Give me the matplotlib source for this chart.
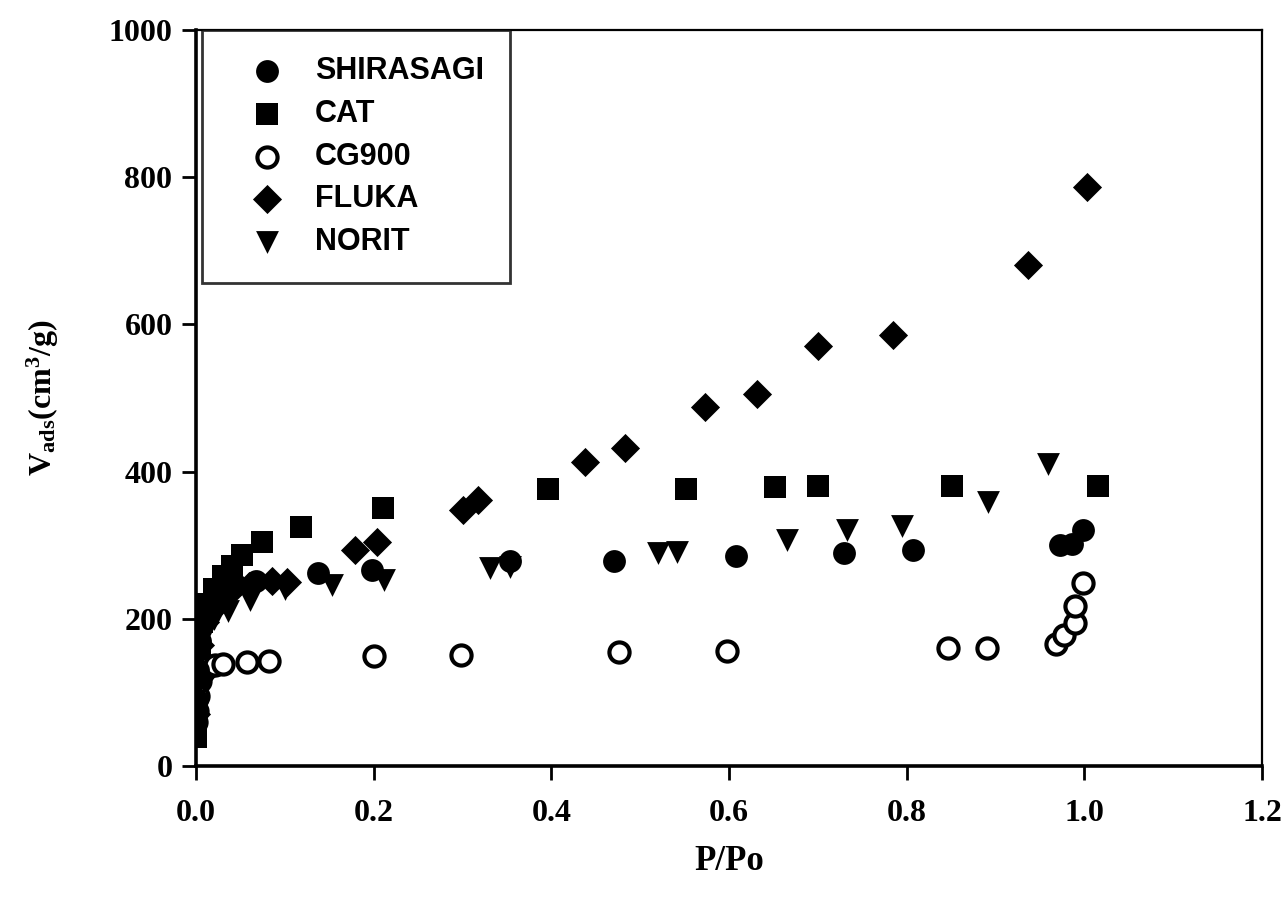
import matplotlib
import numpy as np

matplotlib.use("Agg")
import matplotlib.pyplot as plt

# P/Po vs adsorbed volume (cm3/g)
shirasagi_x = [0.0005, 0.001, 0.002, 0.004, 0.008, 0.015, 0.03, 0.045, 0.068, 0.137, 0.198,
               0.353, 0.470, 0.608, 0.729, 0.807, 0.973, 0.986, 0.999]
shirasagi_y = [60, 90, 130, 170, 200, 222, 238, 246, 252, 262, 266,
               278, 279, 286, 290, 294, 300, 301, 320]

cat_x = [0.0003, 0.0008, 0.002, 0.004, 0.007, 0.012, 0.02, 0.03, 0.04, 0.052, 0.074, 0.118,
         0.211, 0.396, 0.552, 0.652, 0.700, 0.851, 1.015]
cat_y = [40, 80, 120, 160, 195, 220, 240, 258, 272, 287, 304, 325,
         350, 376, 377, 379, 380, 381, 381]

cg900_x = [0.0005, 0.001, 0.002, 0.004, 0.008, 0.014, 0.021, 0.030, 0.057, 0.082, 0.200,
           0.298, 0.476, 0.598, 0.846, 0.890, 0.968, 0.977, 0.989, 0.989, 0.999]
cg900_y = [60, 75, 95, 115, 128, 134, 137, 139, 141, 143, 150,
           151, 155, 156, 160, 160, 166, 178, 194, 217, 249]

fluka_x = [0.0005, 0.002, 0.005, 0.01, 0.02, 0.035, 0.06, 0.085, 0.102, 0.179, 0.204,
           0.301, 0.318, 0.438, 0.483, 0.573, 0.632, 0.700, 0.785, 0.937, 1.003]
fluka_y = [70, 120, 165, 195, 215, 232, 244, 252, 250, 293, 304,
           348, 362, 413, 432, 488, 506, 571, 585, 681, 787]

norit_x = [0.0005, 0.002, 0.005, 0.01, 0.02, 0.036, 0.061, 0.100, 0.153, 0.212, 0.331,
           0.354, 0.520, 0.541, 0.665, 0.733, 0.795, 0.892, 0.959]
norit_y = [60, 110, 150, 180, 200, 210, 225, 240, 246, 253, 269,
           270, 289, 291, 307, 321, 326, 359, 411]

plt.rcParams["font.family"] = "Liberation Serif"
plt.rcParams["font.weight"] = "bold"
plt.rcParams["axes.labelweight"] = "bold"
plt.rcParams["mathtext.fontset"] = "custom"
plt.rcParams["mathtext.rm"] = "Liberation Serif:bold"
plt.rcParams["mathtext.it"] = "Liberation Serif:bold"
plt.rcParams["mathtext.bf"] = "Liberation Serif:bold"
plt.rcParams["mathtext.default"] = "bf"

fig = plt.figure(figsize=(12.88, 9.0), dpi=100)
ax = fig.add_axes([196 / 1288, 1 - 766 / 900, (1262 - 196) / 1288, (766 - 30) / 900])

ax.scatter(shirasagi_x, shirasagi_y, marker="o", s=270, color="black", linewidths=0, label="SHIRASAGI", zorder=4)
ax.scatter(cat_x, cat_y, marker="s", s=240, color="black", linewidths=0, label="CAT", zorder=4)
ax.scatter(cg900_x, cg900_y, marker="o", s=210, facecolors="white", edgecolors="black", linewidths=3.0,
           label="CG900", zorder=3)
ax.scatter(fluka_x, fluka_y, marker="D", s=220, color="black", linewidths=0, label="FLUKA", zorder=4)
ax.scatter(norit_x, norit_y, marker="v", s=270, color="black", linewidths=0, label="NORIT", zorder=4)

ax.set_xlim(0, 1.2)
ax.set_ylim(0, 1000)
ax.set_xticks(np.arange(0, 1.21, 0.2))
ax.set_xticklabels([f"{v:.1f}" for v in np.arange(0, 1.21, 0.2)])
ax.set_yticks(np.arange(0, 1001, 200))

for side, sp in ax.spines.items():
    sp.set_linewidth(2.6 if side in ("left", "bottom") else 1.6)
ax.tick_params(direction="out", length=10, width=2, labelsize=23)
ax.tick_params(axis="x", pad=14)
ax.tick_params(axis="y", pad=7)

ax.set_xlabel("P/Po", fontsize=25, fontweight="bold", labelpad=12)
ax.set_ylabel(r"V$_{ads}$(cm$^{3}$/g)", fontsize=23, fontweight="bold", labelpad=34)

leg = ax.legend(loc="upper left", bbox_to_anchor=(0.006, 1.0), frameon=True, fancybox=False,
                edgecolor="black", borderpad=0.85, labelspacing=0.42, handlelength=2.5, handletextpad=0.33,
                borderaxespad=0, scatterpoints=1, markerscale=1.0,
                prop={"family": "Liberation Sans", "weight": "bold", "size": 22})
leg.get_frame().set_linewidth(2.0)
leg.set_zorder(5)

fig.savefig("out.png", dpi=100)
